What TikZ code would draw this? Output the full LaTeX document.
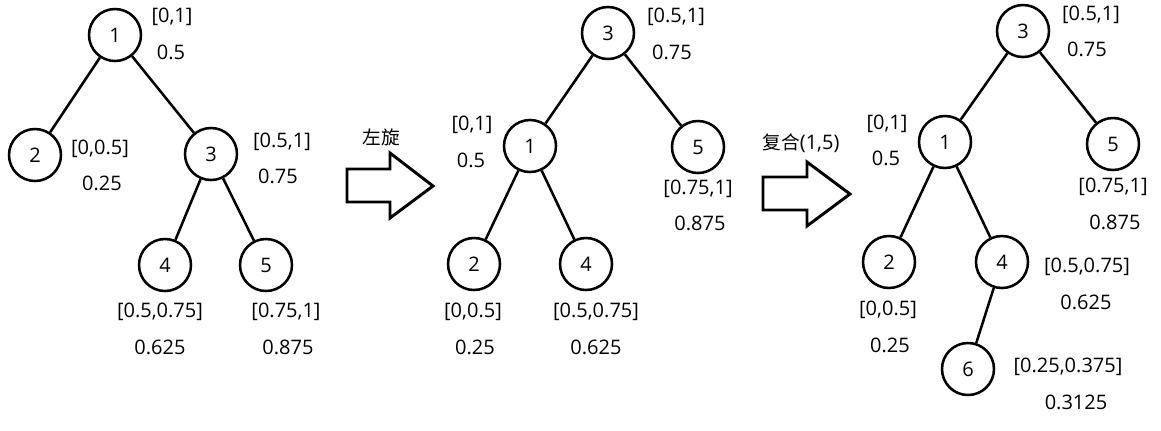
\documentclass[tikz,border=0pt]{standalone}
\usepackage{fontspec}
\setmainfont{Open Sans}
\newfontfamily\cjk{Noto Sans CJK SC}
\begin{document}
\begin{tikzpicture}[x=0.75pt,y=-0.75pt,
  tn/.style={circle,draw,line width=1.9pt,minimum size=39pt,inner sep=0pt,font=\fontsize{15}{17}\selectfont},
  lb/.style={inner sep=0pt,font=\fontsize{15}{17}\selectfont},
  ed/.style={line width=1.9pt},
  blk/.style={draw,line width=2.2pt,line join=miter,fill=white}]
\useasboundingbox (0,0) rectangle (1161,430);
% ---- tree 1
\node[tn] (a1) at (115,35) {1};
\node[tn] (a2) at (35,155) {2};
\node[tn] (a3) at (211,154) {3};
\node[tn] (a4) at (165,265) {4};
\node[tn] (a5) at (266,265) {5};
\draw[ed] (a1) -- (a2);
\draw[ed] (a1) -- (a3);
\draw[ed] (a3) -- (a4);
\draw[ed] (a3) -- (a5);
\node[lb] (a1i) at (172,17) {[0,1]};
\node[lb] (a1v) at (171,52) {0.5};
\node[lb] (a2i) at (100,149) {[0,0.5]};
\node[lb] (a2v) at (102,183) {0.25};
\node[lb] (a3i) at (282,142) {[0.5,1]};
\node[lb] (a3v) at (278,176) {0.75};
\node[lb] (a4i) at (160,312) {[0.5,0.75]};
\node[lb] (a4v) at (160,347) {0.625};
\node[lb] (a5i) at (286,312) {[0.75,1]};
\node[lb] (a5v) at (288,347) {0.875};
% ---- arrow 1
\draw[blk] (347,169) -- (390,169) -- (390,153) -- (433,186) -- (390,218) -- (390,202) -- (347,202) -- cycle;
\node[inner sep=0pt,font=\cjk\fontsize{14}{16}\selectfont] (t1) at (381,137) {左旋};
% ---- tree 2
\node[tn] (b3) at (608,33) {3};
\node[tn] (b1) at (530,146) {1};
\node[tn] (b5) at (698,147) {5};
\node[tn] (b2) at (474,264) {2};
\node[tn] (b4) at (586,264) {4};
\draw[ed] (b3) -- (b1);
\draw[ed] (b3) -- (b5);
\draw[ed] (b1) -- (b2);
\draw[ed] (b1) -- (b4);
\node[lb] (b3i) at (676,17) {[0.5,1]};
\node[lb] (b3v) at (672,52) {0.75};
\node[lb] (b1i) at (472,125) {[0,1]};
\node[lb] (b1v) at (471,160) {0.5};
\node[lb] (b5i) at (698,189) {[0.75,1]};
\node[lb] (b5v) at (700,223) {0.875};
\node[lb] (b2i) at (473,312) {[0,0.5]};
\node[lb] (b2v) at (475,347) {0.25};
\node[lb] (b4i) at (596,312) {[0.5,0.75]};
\node[lb] (b4v) at (596,347) {0.625};
% ---- arrow 2
\draw[blk] (763,177) -- (807,177) -- (807,162) -- (850,194) -- (807,226) -- (807,210) -- (763,210) -- cycle;
\node[inner sep=0pt,font=\fontsize{15}{17}\selectfont] (t2) at (801,143) {{\cjk\fontsize{14}{16}\selectfont 复合}(1,5)};
% ---- tree 3
\node[tn] (c3) at (1023,31) {3};
\node[tn] (c1) at (945,142) {1};
\node[tn] (c5) at (1113,144) {5};
\node[tn] (c2) at (889,262) {2};
\node[tn] (c4) at (1002,262) {4};
\node[tn] (c6) at (968,369) {6};
\draw[ed] (c3) -- (c1);
\draw[ed] (c3) -- (c5);
\draw[ed] (c1) -- (c2);
\draw[ed] (c1) -- (c4);
\draw[ed] (c4) -- (c6);
\node[lb] (c3i) at (1091,15) {[0.5,1]};
\node[lb] (c3v) at (1087,49) {0.75};
\node[lb] (c1i) at (887,124) {[0,1]};
\node[lb] (c1v) at (886,158) {0.5};
\node[lb] (c5i) at (1113,187) {[0.75,1]};
\node[lb] (c5v) at (1115,222) {0.875};
\node[lb] (c2i) at (888,310) {[0,0.5]};
\node[lb] (c2v) at (890,345) {0.25};
\node[lb] (c4i) at (1087,267) {[0.5,0.75]};
\node[lb] (c4v) at (1086,302) {0.625};
\node[lb] (c6i) at (1068,367) {[0.25,0.375]};
\node[lb] (c6v) at (1076,402) {0.3125};
\end{tikzpicture}
\end{document}
